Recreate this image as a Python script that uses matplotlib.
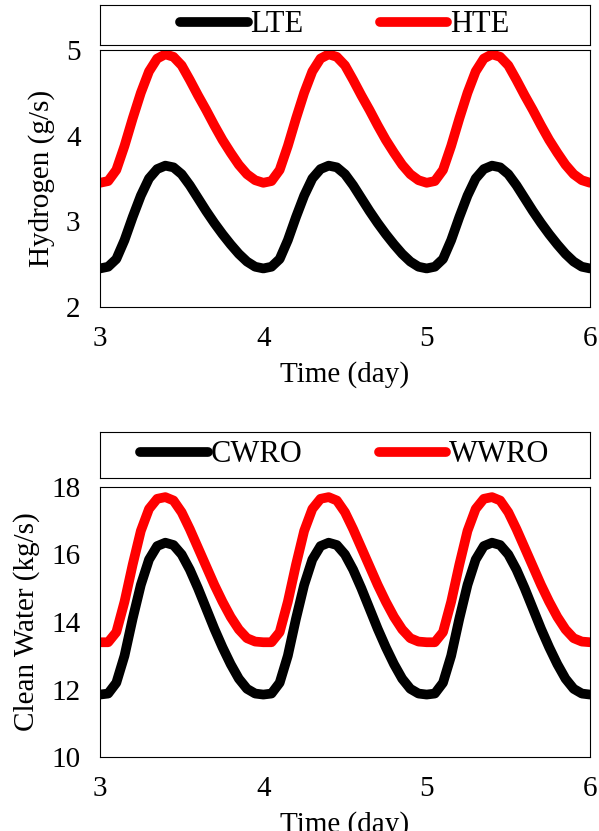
import numpy as np
import matplotlib
matplotlib.use("Agg")
import matplotlib.pyplot as plt

plt.rcParams['font.family'] = ['Liberation Serif', 'DejaVu Serif']
plt.rcParams['font.size'] = 20

# one day (offset 0 .. 0.95 day, step 0.05), repeats for days 3-6
day_offset = [i * 0.05 for i in range(20)]
lte = [2.45, 2.47, 2.56, 2.78, 3.05, 3.3, 3.5, 3.61, 3.65, 3.63, 3.55, 3.42, 3.27, 3.12, 2.98, 2.85, 2.73, 2.62, 2.53, 2.47]
hte = [3.45, 3.47, 3.6, 3.88, 4.2, 4.5, 4.75, 4.9, 4.95, 4.92, 4.82, 4.65, 4.47, 4.3, 4.12, 3.95, 3.8, 3.66, 3.55, 3.48]
cwro = [11.85, 11.88, 12.2, 13.0, 14.1, 15.1, 15.85, 16.25, 16.35, 16.28, 16.0, 15.55, 15.0, 14.4, 13.8, 13.25, 12.75, 12.32, 12.02, 11.88]
wwro = [13.4, 13.4, 13.7, 14.6, 15.7, 16.7, 17.35, 17.65, 17.7, 17.6, 17.25, 16.75, 16.2, 15.65, 15.1, 14.6, 14.15, 13.78, 13.52, 13.42]
days = [3, 4, 5]

t = [d + o for d in days for o in day_offset] + [6.0]
def cyc(v):
    return v * len(days) + [v[0]]

fig = plt.figure(figsize=(5.99, 8.31), dpi=100)
W, H = 599, 831
def rect(x0, y0, x1, y1):
    return [x0 / W, 1 - y1 / H, (x1 - x0) / W, (y1 - y0) / H]

panels = [
    (rect(100, 50, 590, 307), rect(100, 5, 590, 45), lte, hte, "LTE", "HTE", "Hydrogen (g/s)", (2, 5), [2, 3, 4, 5]),
    (rect(100, 487, 590, 757), rect(100, 432, 590, 478), cwro, wwro, "CWRO", "WWRO", "Clean Water (kg/s)", (10, 18), [10, 12, 14, 16, 18]),
]
for ax_r, leg_r, a, b, la, lb, ylab, ylim, yt in panels:
    ax = fig.add_axes(ax_r)
    l1, = ax.plot(t, cyc(a), color='black', lw=7, solid_capstyle='round')
    l2, = ax.plot(t, cyc(b), color='red', lw=7, solid_capstyle='round')
    ax.set_xlim(3, 6)
    ax.set_ylim(*ylim)
    ax.set_xticks([3, 4, 5, 6])
    ax.set_yticks(yt)
    ax.tick_params(length=0, labelsize=21, pad=14)
    ax.set_ylabel(ylab, fontsize=21, labelpad=8)
    ax.set_xlabel("Time (day)", fontsize=21, labelpad=6)
    lax = fig.add_axes(leg_r)
    lax.set_xticks([])
    lax.set_yticks([])
    lax.legend([l1, l2], [la, lb], loc='center', ncol=2, frameon=False, fontsize=22,
               handlelength=2.2, handletextpad=0.1, columnspacing=2.5)

fig.savefig("out.png", dpi=100)
